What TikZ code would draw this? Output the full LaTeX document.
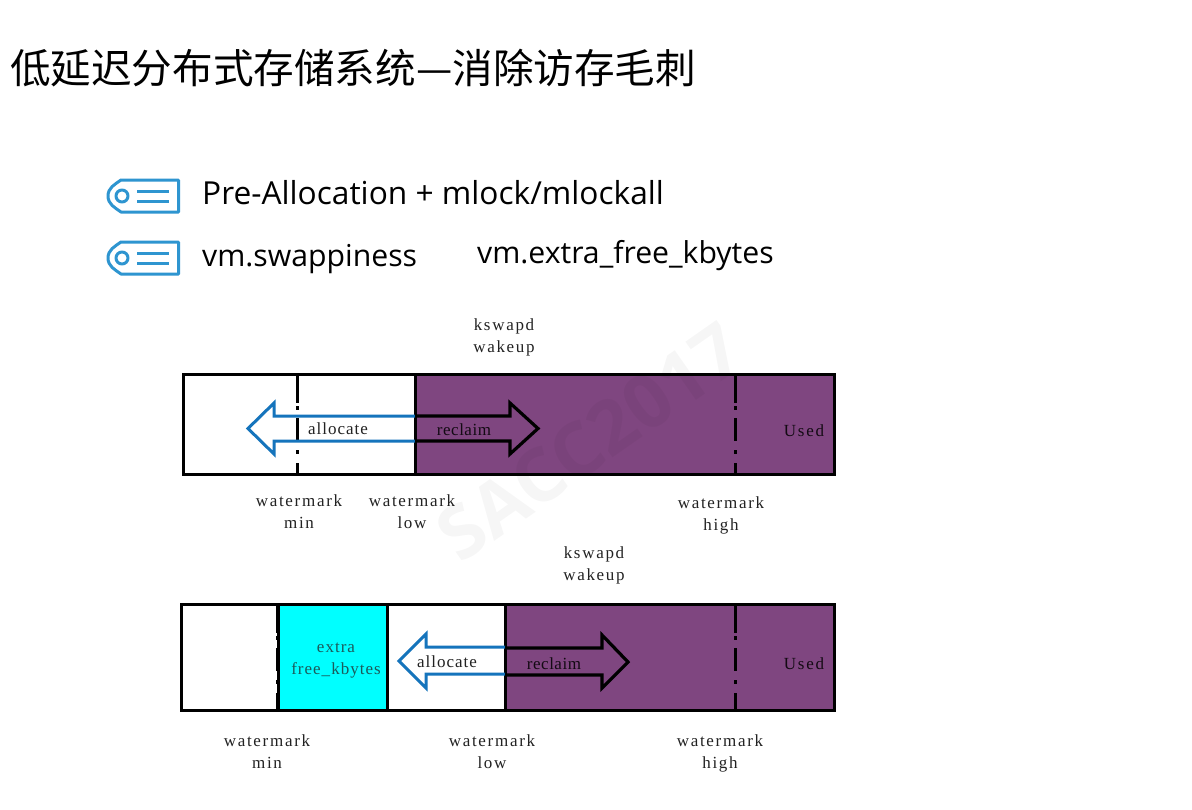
\documentclass[tikz,border=0pt]{standalone}
\usepackage{fontspec}
\setmainfont{Open Sans}
\newfontfamily\cjk{Noto Sans CJK SC}
\newfontfamily\lbl[LetterSpace=10]{Liberation Serif}
\newfontfamily\lblmid[LetterSpace=6]{Liberation Serif}
\newfontfamily\lbltight[LetterSpace=3]{Liberation Serif}
\newfontfamily\wm{Open Sans}
\definecolor{memp}{HTML}{7F4680}
\definecolor{arrb}{HTML}{1574BC}
\definecolor{tagb}{HTML}{2E95D0}
\definecolor{lblc}{HTML}{222222}
\definecolor{cyanfill}{HTML}{00FFFF}
\definecolor{cyantext}{HTML}{1C5A5A}
\tikzset{
  seg/.style={draw=black,line width=3pt,minimum height=#1,inner sep=0pt,outer sep=0pt,anchor=north west},
  wlbl/.style={font=\lbl\fontsize{17}{21}\selectfont,text=lblc,align=center,inner sep=0pt,anchor=center},
  wlblmid/.style={font=\lblmid\fontsize{17}{21}\selectfont,text=lblc,align=center,inner sep=0pt,anchor=center},
  wlbltight/.style={font=\lbltight\fontsize{17}{21}\selectfont,text=black!85!memp,align=center,inner sep=0pt,anchor=center},
  wmline/.style={draw=black,line width=3pt,dash pattern=on 29pt off 3pt on 4pt off 8pt on 23pt off 9pt on 4pt off 9pt on 22pt},
  blueshape/.style={draw=arrb,line width=3pt,line join=miter},
  blackshape/.style={draw=black,line width=3.2pt,line join=miter},
  tagicon/.style={draw=tagb,line width=3pt,line join=round},
  bodya/.style={font=\fontsize{31.7}{36}\selectfont,text=black,inner sep=0pt,anchor=west},
  bodyb/.style={font=\fontsize{30.2}{36}\selectfont,text=black,inner sep=0pt,anchor=west},
}
\begin{document}
\begin{tikzpicture}[x=1pt,y=-1pt]
\useasboundingbox (0,0) rectangle (1192,809);
\fill[white] (0,0) rectangle (1192,809);
% title
\node[font=\cjk\fontsize{40.6}{46}\selectfont,inner sep=0pt,anchor=west] (title) at (10,68) {低延迟分布式存储系统—消除访存毛刺};
% bullets
\foreach \n/\yy in {a/196,b/258}{
  \draw[tagicon] (178.5,\yy-16) -- (121,\yy-16) to[out=215,in=90] (108,\yy) to[out=-90,in=145] (121,\yy+16) -- (178.5,\yy+16) -- cycle;
  \draw[tagicon] (122,\yy) circle (6);
  \draw[tagicon] (137,\yy-5) -- (169,\yy-5);
  \draw[tagicon] (137,\yy+5) -- (169,\yy+5);
}
\node[bodya] (l1) at (202,193) {Pre-Allocation + mlock/mlockall};
\node[bodyb] (l2) at (202,259) {vm.swappiness};
\node[bodyb] (l3) at (477,256) {vm.extra\_free\_kbytes};
% row 1
\node[seg=100pt,minimum width=232pt,fill=white] (r1a) at (183,374) {};
\node[seg=100pt,minimum width=419pt,fill=memp] (r1b) at (415,374) {};
\coordinate (m1t) at (297,374); \coordinate (m1b) at (297,474);
\coordinate (h1t) at (735,374); \coordinate (h1b) at (735,474);
\draw[wmline] (m1t) -- (m1b);
\draw[wmline] (h1t) -- (h1b);
\draw[blueshape] (r1b.west |- 0,416) -- (274,416) -- (274,403) -- (248,428.5) -- (274,454) -- (274,441) -- (r1b.west |- 0,441);
\draw[blackshape] (r1b.west |- 0,416) -- (510,416) -- (510,403) -- (538,428.5) -- (510,454) -- (510,441) -- (r1b.west |- 0,441);
\node[wlblmid] (a1) at (338,428.5) {allocate};
\node[wlbltight] (c1) at (464,430) {reclaim};
\node[wlbl,text=black!85!memp] (u1) at (804,431) {Used};
\node[wlbl] (k1) at (504,337.5) {kswapd\\[1pt]wakeup};
\node[wlbl] (w1) at (299,511.5) {watermark\\[1pt]min};
\node[wlbl] (w2) at (412,511.5) {watermark\\[1pt]low};
\node[wlbl] (w3) at (721,515.5) {watermark\\[1pt]high};
% row 2
\node[seg=106pt,minimum width=97pt,fill=white] (r2a) at (181,604) {};
\node[seg=106pt,minimum width=109pt,fill=cyanfill] (r2c) at (278,604) {};
\node[seg=106pt,minimum width=118pt,fill=white] (r2d) at (387,604) {};
\node[seg=106pt,minimum width=329pt,fill=memp] (r2e) at (505,604) {};
\coordinate (m2t) at (277,604); \coordinate (m2b) at (277,710);
\coordinate (h2t) at (735,604); \coordinate (h2b) at (735,710);
\draw[wmline] (m2t) -- (m2b);
\draw[wmline] (h2t) -- (h2b);
\draw[blueshape] (r2e.west |- 0,647) -- (426,647) -- (426,634) -- (399,661) -- (426,688) -- (426,674) -- (r2e.west |- 0,674);
\draw[blackshape] (r2e.west |- 0,648) -- (602,648) -- (602,635) -- (628,662) -- (602,688) -- (602,675) -- (r2e.west |- 0,675);
\node[wlblmid] (a2) at (447,662) {allocate};
\node[wlbltight] (c2) at (554,664) {reclaim};
\node[wlbl,text=black!85!memp] (u2) at (804,664) {Used};
\node[wlblmid,text=cyantext] (x) at (336,661) {extra\\[1pt]free\_kbytes};
\node[wlbl] (k2) at (594,565.5) {kswapd\\[1pt]wakeup};
\node[wlbl] (w4) at (267,751.5) {watermark\\[1pt]min};
\node[wlbl] (w5) at (492,751.5) {watermark\\[1pt]low};
\node[wlbl] (w6) at (720,753.5) {watermark\\[1pt]high};
% watermark
\node[font=\wm\bfseries\fontsize{74}{74}\selectfont,text=black,opacity=0.035,rotate=35,inner sep=0pt] (sacc) at (590,442) {SACC2017};
\end{tikzpicture}
\end{document}
